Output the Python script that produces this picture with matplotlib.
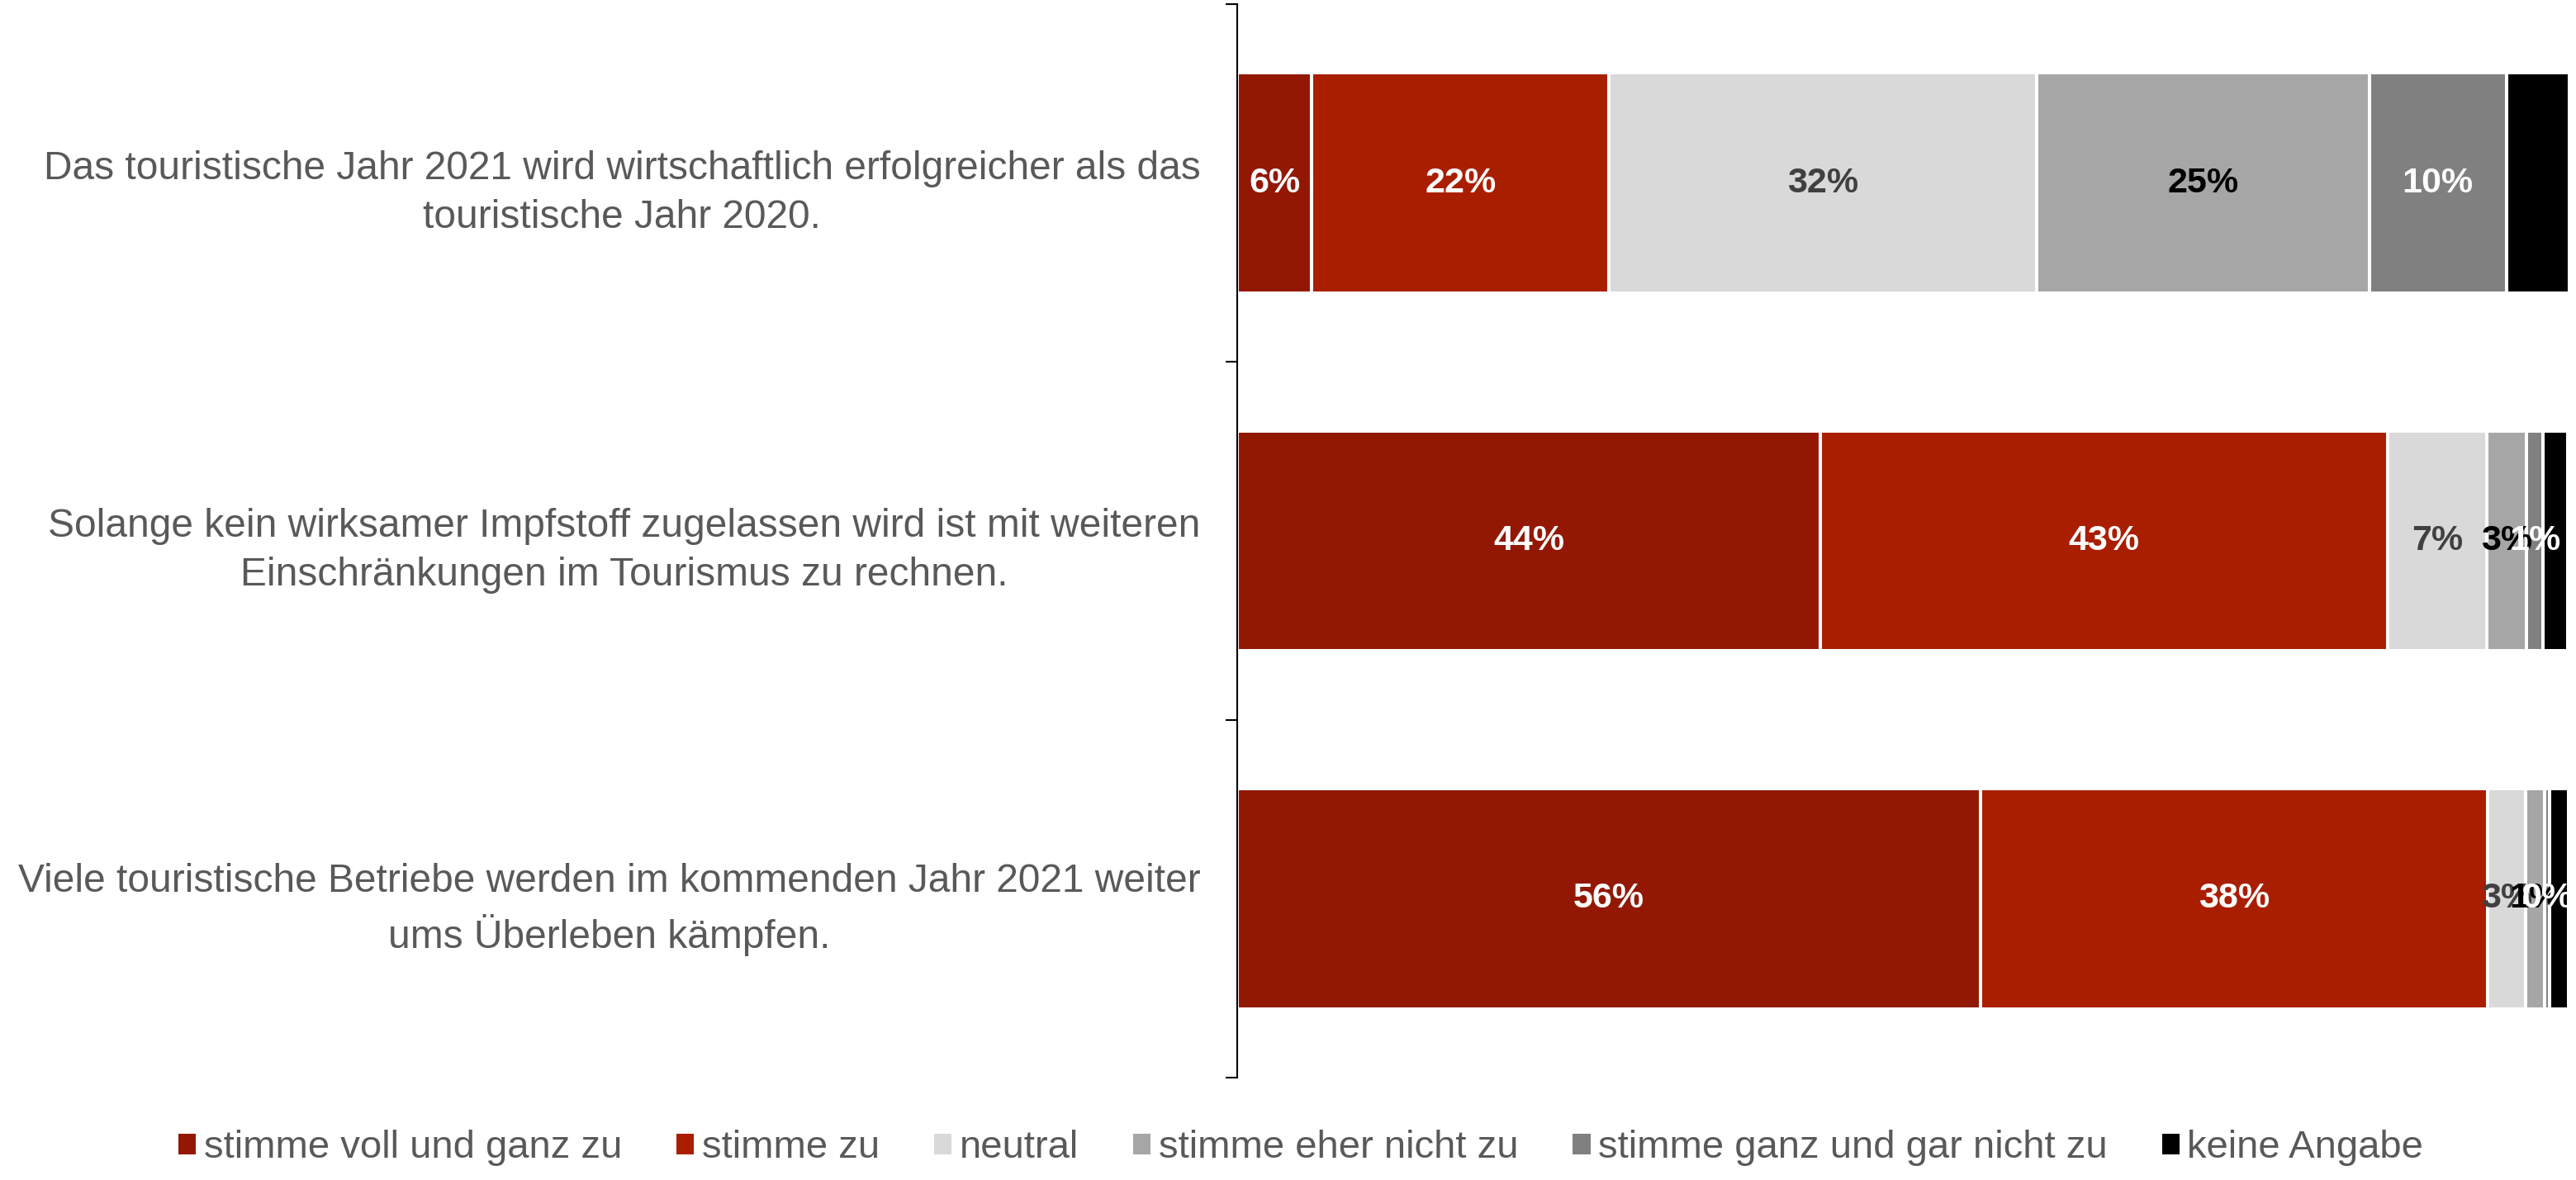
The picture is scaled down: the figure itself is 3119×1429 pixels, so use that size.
import numpy as np
import matplotlib.pyplot as plt
from matplotlib.patches import Patch

plt.rcParams['font.family'] = ['Liberation Sans', 'DejaVu Sans']

# Statements (top to bottom)
statements = [
    "Das touristische Jahr 2021 wird wirtschaftlich erfolgreicher als das\ntouristische Jahr 2020.",
    "Solange kein wirksamer Impfstoff zugelassen wird ist mit weiteren\nEinschränkungen im Tourismus zu rechnen.",
    "Viele touristische Betriebe werden im kommenden Jahr 2021 weiter\nums Überleben kämpfen.",
]
answers = ["stimme voll und ganz zu", "stimme zu", "neutral",
           "stimme eher nicht zu", "stimme ganz und gar nicht zu", "keine Angabe"]

# Shares in % per answer, one value per statement
voll_und_ganz = [5.6, 43.8, 55.8]
stimme_zu = [22.3, 42.6, 38.1]
neutral = [32.1, 7.4, 2.85]
eher_nicht = [25.0, 3.0, 1.43]
gar_nicht = [10.3, 1.24, 0.37]
keine_angabe = [4.7, 1.86, 1.43]

series = [voll_und_ganz, stimme_zu, neutral, eher_nicht, gar_nicht, keine_angabe]
colors = ["#931803", "#AA1E00", "#D9D9D9", "#A6A6A6", "#808080", "#000000"]
# no visible label on the black "keine Angabe" segment
label_colors = ["white", "white", "#404040", "black", "white", None]
text_grey = "#595959"

fig = plt.figure(figsize=(31.19, 14.29), dpi=100)
ax = fig.add_axes([0.4803, 0.0868, 0.517, 0.9097])

y = np.arange(len(statements))
left = np.zeros(len(statements))
for vals, col, lcol in zip(series, colors, label_colors):
    vals = np.array(vals)
    bars = ax.barh(y, vals, left=left, height=0.615, color=col,
                   edgecolor="white", linewidth=2.9)
    if lcol is not None:
        for b, v in zip(bars, vals):
            ax.text(b.get_x() + b.get_width() / 2, b.get_y() + b.get_height() / 2,
                    f"{round(v):.0f}%", ha="center", va="center",
                    fontsize=31, fontweight="bold", color=lcol)
    left += vals

ax.set_xlim(0, 100)
ax.set_ylim(2.5, -0.5)
ax.set_xticks([])
ax.set_yticks(y)
ax.set_yticklabels(statements, fontsize=34.5, color=text_grey)
for t in ax.get_yticklabels():
    t.set_multialignment("center")
    t.set_linespacing(1.4)
ax.set_yticks(np.arange(-0.5, 3, 1), minor=True)
ax.tick_params(axis="y", which="major", length=0, pad=32)
ax.tick_params(axis="y", which="minor", length=10, width=1.5, direction="out")

for s in ["top", "right", "bottom"]:
    ax.spines[s].set_visible(False)
ax.spines["left"].set_linewidth(1.5)

handles = [Patch(facecolor=c, edgecolor="none") for c in colors]
leg = fig.legend(handles, answers, loc="center", bbox_to_anchor=(0.505, 0.027),
                 ncol=6, frameon=False, fontsize=34, handlelength=0.45,
                 handleheight=0.45, handletextpad=0.2, columnspacing=1.4)
for t in leg.get_texts():
    t.set_color(text_grey)

fig.savefig("out.png", dpi=100)
